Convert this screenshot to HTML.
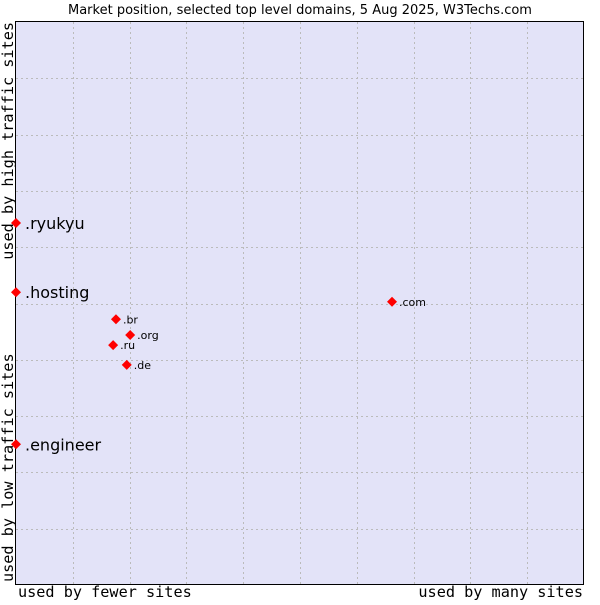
<!DOCTYPE html>
<html><head><meta charset="utf-8"><style>
body{margin:0;background:#fff;width:600px;height:600px;overflow:hidden}
svg text{font-family:"DejaVu Sans","Liberation Sans",sans-serif}
.mono{font-family:"DejaVu Sans Mono","Liberation Mono",monospace;font-size:15.2px;fill:#000}
</style></head><body>
<svg id="chart" width="600" height="600">
<text x="300" y="14" text-anchor="middle" font-size="13">Market position, selected top level domains, 5 Aug 2025, W3Techs.com</text>
<rect x="15.5" y="21.5" width="568" height="563" fill="#e3e3f8" stroke="#000" stroke-width="1"/>
<g id="grid"></g>
<g id="points"></g>
<text class="mono" x="18" y="597">used by fewer sites</text>
<text class="mono" x="583" y="597" text-anchor="end">used by many sites</text>
<text class="mono" transform="translate(13,22) rotate(-90)" text-anchor="end">used by high traffic sites</text>
<text class="mono" transform="translate(13,582) rotate(-90)">used by low traffic sites</text>
</svg>
<script>
const labels=[".ryukyu",".hosting",".engineer",".com",".br",".org",".ru",".de"];
const xVals=[0,0,0,66.2,17.6,20.1,17.1,19.5];
const yVals=[64.3,52.0,25.0,50.3,47.2,44.4,42.6,39.1];
const bigLabels=[true,true,true,false,false,false,false,false];
const NS="http://www.w3.org/2000/svg";
const L=16,R=584,T=22,B=585;
const xs=v=>L+v/100*(R-L);
const ys=v=>B-v/100*(B-T);
const grid=document.getElementById('grid');
for(let i=1;i<10;i++){
 const gx=Math.round(xs(i*10))+0.5, gy=Math.round(ys(i*10))+0.5;
 const a=document.createElementNS(NS,'line');
 
 
 a.setAttribute('x1',gx);a.setAttribute('x2',gx);a.setAttribute('y1',T);a.setAttribute('y2',B);
 a.setAttribute('stroke','#bbbbbb');a.setAttribute('stroke-dasharray','2,3');grid.appendChild(a);
 const b=document.createElementNS(NS,'line');
 
 
 b.setAttribute('x1',L);b.setAttribute('x2',R);b.setAttribute('y1',gy);b.setAttribute('y2',gy);
 b.setAttribute('stroke','#bbbbbb');b.setAttribute('stroke-dasharray','2,3');grid.appendChild(b);
}
const pts=document.getElementById('points');
labels.forEach((lab,i)=>{
 const x=xs(xVals[i]),y=ys(yVals[i]);
 const d=document.createElementNS(NS,'polygon');
 
 
 d.setAttribute('points',`${x},${y-5} ${x+5},${y} ${x},${y+5} ${x-5},${y}`);
 d.setAttribute('fill','#f00');pts.appendChild(d);
 const t=document.createElementNS(NS,'text');
 
 
 t.setAttribute('x',x+(bigLabels[i]?9:7));t.setAttribute('y',y+(bigLabels[i]?6:4));
 t.setAttribute('font-size',bigLabels[i]?'16':'11');
 t.textContent=lab;pts.appendChild(t);
});
</script>
</body></html>
